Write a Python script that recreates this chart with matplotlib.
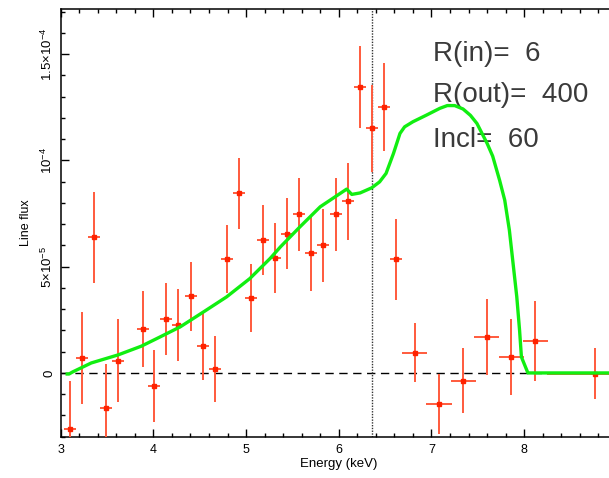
import matplotlib
matplotlib.use("Agg")
import matplotlib.pyplot as plt
from matplotlib.ticker import MultipleLocator, FixedLocator, FixedFormatter

plt.rcParams['font.family'] = ['Liberation Sans', 'DejaVu Sans']
plt.rcParams['mathtext.default'] = 'regular'

# Data (flux in units of 1e-5)
energy = [3.104, 3.227, 3.36, 3.49, 3.618, 3.885, 4.01, 4.136, 4.269, 4.402,
          4.532, 4.665, 4.794, 4.924, 5.053, 5.185, 5.312, 5.441, 5.574, 5.703,
          5.833, 5.966, 6.096, 6.226, 6.355, 6.485, 6.618, 6.819, 7.081, 7.34,
          7.595, 7.858, 8.117, 8.764]
energy_err = [0.065] * 27 + [0.135] * 6 + [0.52]
flux = [-2.64, 0.69, 6.39, -1.66, 0.565, 2.07, -0.63, 2.53, 2.25, 3.60,
        1.26, 0.17, 5.37, 8.46, 3.53, 6.26, 5.41, 6.56, 7.46, 5.62,
        6.0, 7.46, 8.08, 13.45, 11.51, 12.52, 5.35, 0.96, -1.46, -0.36,
        1.69, 0.75, 1.51, -0.03]
flux_err = [2.26, 2.17, 2.14, 2.06, 1.95, 1.77, 1.69, 1.69, 1.68, 1.63,
            1.59, 1.55, 1.59, 1.67, 1.6, 1.66, 1.65, 1.66, 1.7, 1.75,
            1.7, 1.72, 1.82, 1.94, 2.04, 2.06, 1.9, 1.37, 1.4, 1.53,
            1.79, 1.77, 1.88, 1.2]

model_e = [3.07, 3.09, 3.13, 3.33, 3.62, 3.87, 4.07, 4.29, 4.54, 4.79, 5.04,
           5.26, 5.37, 5.58, 5.80, 6.085, 6.14, 6.23, 6.355, 6.44, 6.51, 6.59,
           6.66, 6.71, 6.80, 6.945, 7.09, 7.17, 7.25, 7.34, 7.42, 7.49, 7.60,
           7.66, 7.735, 7.79, 7.84, 7.88, 7.92, 7.95, 7.97, 8.04, 9.0]
model_f = [-0.05, -0.05, 0.05, 0.47, 0.85, 1.26, 1.69, 2.17, 2.87, 3.58, 4.44,
           5.39, 5.93, 6.87, 7.82, 8.65, 8.40, 8.47, 8.71, 8.99, 9.39, 10.33,
           11.27, 11.58, 11.82, 12.13, 12.45, 12.58, 12.58, 12.42, 12.12, 11.74,
           10.8, 10.2, 9.06, 8.13, 6.72, 5.15, 3.58, 2.01, 0.75, 0.0, 0.0]

line_energy = 6.355
labels = ["R(in)=  6", "R(out)=  400", "Incl=  60"]
label_y = [14.69, 12.73, 10.64]

yticks = [0, 5e-5, 1e-4, 1.5e-4]
yticklabels = ["0", "5×10$^{-5}$", "10$^{-4}$", "1.5×10$^{-4}$"]
xticks = [3, 4, 5, 6, 7, 8]

scale = 1e-5

W, H = 609, 478
fig = plt.figure(figsize=(W / 100, H / 100), dpi=100)
left, right, top, bottom = 60.7, 616.9, 9.3, 436.7
ax = fig.add_axes([left / W, 1 - bottom / H, (right - left) / W, (bottom - top) / H])

ax.set_xlim(3, 9)
ax.set_ylim(-3.0e-5, 1.711e-4)

# zero line and line energy marker
ax.axhline(0, color='black', lw=1.0, ls=(0, (6, 4)), zorder=1)
ax.axvline(line_energy, color='#333333', lw=1.0, ls=(0, (1, 1)), zorder=1)

# data
ax.errorbar(energy, [f * scale for f in flux],
            xerr=energy_err, yerr=[e * scale for e in flux_err],
            fmt='s', ms=3.0, mfc='#ff2200', mec='#ff2200',
            ecolor='#ff5a3c', elinewidth=1.4, capsize=0, zorder=3)

# model
ax.plot(model_e, [f * scale for f in model_f], color='#11ee11', lw=2.4, zorder=4)

for t, y in zip(labels, label_y):
    ax.text(7.013, y * scale, t, fontsize=20, color='#3a3a3a', va='baseline', ha='left')

ax.yaxis.set_major_locator(FixedLocator(yticks))
ax.yaxis.set_major_formatter(FixedFormatter(yticklabels))
ax.yaxis.set_minor_locator(MultipleLocator(1e-5))
ax.xaxis.set_major_locator(FixedLocator(xticks))
ax.xaxis.set_minor_locator(MultipleLocator(0.2))

ax.tick_params(which='both', direction='in', top=True, right=True, width=1.0)
ax.tick_params(which='major', length=6)
ax.tick_params(which='minor', length=3)
ax.tick_params(axis='y', which='major', pad=4, labelsize=9.5)
ax.tick_params(axis='x', which='major', pad=5, labelsize=9)
for lab in ax.get_yticklabels():
    lab.set_rotation(90)
    lab.set_va('center')

for s in ax.spines.values():
    s.set_linewidth(1.1)

ax.set_xlabel("Energy (keV)", fontsize=9.5, labelpad=2)
ax.set_ylabel("Line flux", fontsize=9, labelpad=6)

fig.savefig("out.png", dpi=100)
